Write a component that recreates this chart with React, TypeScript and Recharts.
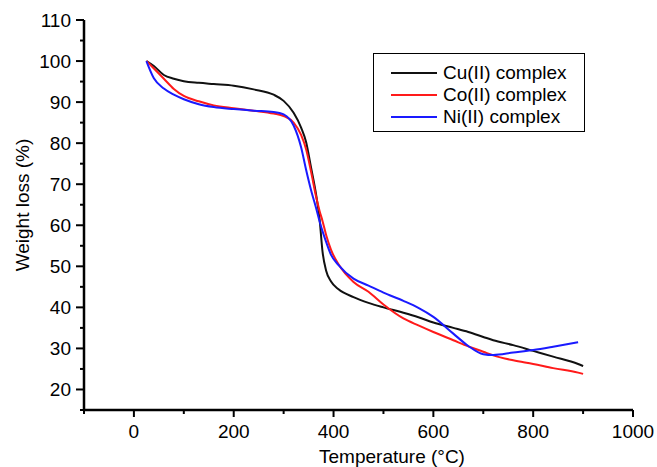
import React from "react";
import { LineChart, Line, XAxis, YAxis, Label } from "recharts";

const FONT = '"Liberation Sans", Arial, Helvetica, sans-serif';

// temperature (°C) sample points shared by all three curves
const temps = [
  25, 40, 60, 80, 100, 130, 160, 200, 240, 280, 300, 320, 335, 345, 355, 365,
  372, 378, 385, 395, 410, 440, 470, 500, 540, 570, 600, 640, 670, 700, 720,
  760, 800, 840, 890, 900,
];

// weight loss (%)
const cuValues = [
  100, 98.8, 96.6, 95.7, 95.1, 94.7, 94.4, 94.0, 93.1, 91.8, 90.3, 87.4, 83.8,
  80.3, 74, 67.5, 61.5, 53.5, 49, 46.3, 44.4, 42.5, 41.1, 40.0, 38.7, 37.6,
  36.3, 35.0, 34.0, 32.8, 32.0, 30.8, 29.4, 28.0, 26.2, 25.7,
];
const coValues = [
  100, 98.2, 95.7, 93.2, 91.5, 90.2, 89.2, 88.5, 87.9, 87.2, 86.6, 85.0, 82.0,
  78.5, 73, 67, 63.5, 61, 57.7, 54, 50.5, 46.2, 43.8, 40.7, 37.3, 35.6, 34.0,
  32.0, 30.5, 29.2, 28.3, 27.1, 26.2, 25.2, 24.1, 23.8,
];
const niValues = [
  100, 95.8, 93.3, 91.8, 90.7, 89.5, 88.8, 88.3, 87.9, 87.6, 87.0, 84.3, 79,
  73.5, 68.5, 64.2, 61, 58.5, 56, 52.8, 50.3, 47.0, 45.3, 43.6, 41.6, 39.9,
  37.7, 33.6, 30.6, 28.6, 28.4, 29.0, 29.6, 30.4, 31.5, null,
];

const xTicks = [-100, 0, 100, 200, 300, 400, 500, 600, 700, 800, 900, 1000];
const yTicks = [15, 20, 25, 30, 35, 40, 45, 50, 55, 60, 65, 70, 75, 80, 85, 90, 95, 100, 105, 110];

const series = [
  { key: "cu", name: "Cu(II) complex", color: "#111111" },
  { key: "co", name: "Co(II) complex", color: "#ff1a1a" },
  { key: "ni", name: "Ni(II) complex", color: "#1a1aff" },
];

const rows = temps.map((t, i) => ({
  temp: t,
  cu: cuValues[i],
  co: coValues[i],
  ni: niValues[i],
}));

function XTick({ x, y, payload }: any) {
  const major = payload.value % 200 === 0;
  return (
    <g>
      <line x1={x} y1={y} x2={x} y2={y + (major ? 7 : 4)} stroke="#000" strokeWidth={2} />
      {major && (
        <text x={x} y={y + 28} textAnchor="middle" fontSize={19} fontFamily={FONT} fill="#000">
          {payload.value}
        </text>
      )}
    </g>
  );
}

function YTick({ x, y, payload }: any) {
  const major = payload.value % 10 === 0;
  return (
    <g>
      <line x1={x} y1={y} x2={x - (major ? 8 : 4)} y2={y} stroke="#000" strokeWidth={2} />
      {major && (
        <text x={x - 13} y={y} dy="0.36em" textAnchor="end" fontSize={19} fontFamily={FONT} fill="#000">
          {payload.value}
        </text>
      )}
    </g>
  );
}

function LegendBox() {
  return (
    <div
      style={{
        position: "absolute",
        left: 373,
        top: 53,
        width: 212,
        height: 79,
        boxSizing: "border-box",
        border: "1px solid #000",
        background: "#fff",
      }}
    >
      {series.map((s, i) => (
        <div
          key={s.key}
          style={{
            position: "absolute",
            left: 17,
            top: 8 + i * 22,
            height: 22,
            display: "flex",
            alignItems: "center",
          }}
        >
          <span style={{ display: "inline-block", width: 46, height: 2, background: s.color }} />
          <span
            style={{
              marginLeft: 6,
              fontFamily: FONT,
              fontSize: 19,
              lineHeight: "22px",
              color: "#000",
              whiteSpace: "nowrap",
            }}
          >
            {s.name}
          </span>
        </div>
      ))}
    </div>
  );
}

export default function App() {
  return (
    <div style={{ position: "absolute", left: 0, top: 0, width: 657, height: 467, background: "#fff" }}>
      <LineChart
        width={657}
        height={467}
        data={rows}
        margin={{ top: 20, right: 24, bottom: 0, left: 0 }}
      >
        <XAxis
          dataKey="temp"
          type="number"
          domain={[-100, 1000]}
          ticks={xTicks}
          interval={0}
          height={57}
          tickSize={0}
          tickMargin={0}
          tickLine={false}
          tick={<XTick />}
          axisLine={{ stroke: "#000", strokeWidth: 2.5 }}
        >
          <Label
            content={() => (
              <text x={392} y={463} textAnchor="middle" fontSize={19} fontFamily={FONT} fill="#000">
                Temperature (°C)
              </text>
            )}
          />
        </XAxis>
        <YAxis
          type="number"
          domain={[15, 110]}
          ticks={yTicks}
          interval={0}
          width={84}
          tickSize={0}
          tickMargin={0}
          tickLine={false}
          tick={<YTick />}
          axisLine={{ stroke: "#000", strokeWidth: 2.5 }}
        >
          <Label
            content={() => (
              <text
                x={22}
                y={205}
                dy="0.35em"
                transform="rotate(-90 22 205)"
                textAnchor="middle"
                fontSize={19}
                fontFamily={FONT}
                fill="#000"
              >
                Weight loss (%)
              </text>
            )}
          />
        </YAxis>
        {series.map((s) => (
          <Line
            key={s.key}
            type="monotone"
            dataKey={s.key}
            name={s.name}
            stroke={s.color}
            strokeWidth={2}
            dot={false}
            isAnimationActive={false}
          />
        ))}
      </LineChart>
      <LegendBox />
    </div>
  );
}
